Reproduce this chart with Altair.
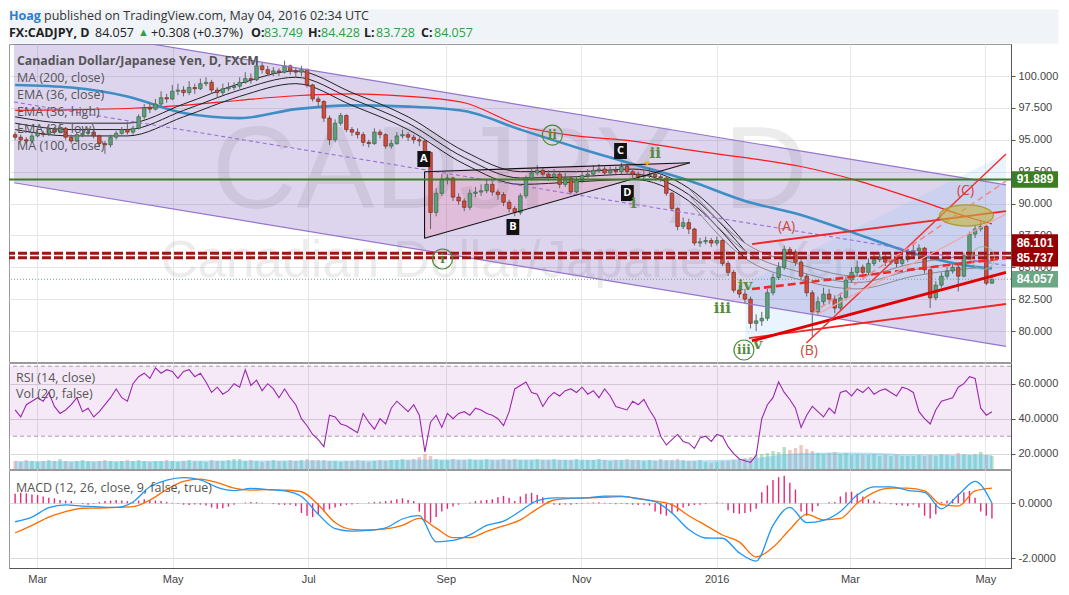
import altair as alt
import pandas as pd

# ---------------- data ----------------
FIRST_OPEN = 95.4
closes = [
    95.2, 95.0, 94.9, 95.3, 95.5, 95.4, 95.8, 95.6, 95.9, 95.2,
    94.9, 95.4, 95.5, 95.6, 95.3, 94.7, 94.6, 95.2, 95.5, 95.8,
    95.6, 95.9, 96.8, 97.5, 97.4, 97.8, 98.3, 98.2, 98.8, 98.9,
    98.7, 99.1, 99.0, 99.4, 99.5, 98.9, 98.7, 99.0, 99.1, 99.2,
    99.5, 99.8, 99.7, 100.8, 100.5, 100.2, 100.4, 100.3, 100.8, 100.4,
    100.3, 100.5, 99.3, 98.2, 98.0, 96.7, 95.0, 96.3, 96.9, 95.8,
    95.6, 95.4, 94.8, 94.7, 95.6, 95.4, 94.5, 94.7, 95.3, 95.4,
    95.2, 95.0, 94.9, 94.0, 89.3, 90.8, 91.9, 92.0, 90.5, 90.2,
    89.7, 90.8, 90.9, 91.0, 91.5, 90.9, 90.7, 90.1, 89.6, 89.3,
    90.6, 92.0, 92.4, 92.6, 92.3, 92.1, 92.3, 91.5, 92.0, 90.9,
    91.8, 92.2, 92.3, 92.6, 92.7, 92.4, 92.6, 92.5, 92.9, 92.5,
    92.3, 92.1, 92.2, 92.3, 92.1, 92.0, 90.8, 89.6, 88.2, 88.5,
    88.0, 86.9, 87.0, 87.1, 86.9, 87.1, 85.3, 84.6, 83.2, 82.9,
    82.5, 80.6, 80.8, 81.0, 83.0, 84.2, 85.0, 86.4, 86.2, 85.4,
    84.3, 83.0, 81.5, 82.3, 82.9, 82.5, 81.8, 82.6, 84.0, 84.6,
    85.0, 84.6, 85.3, 85.6, 85.8, 85.4, 85.6, 85.3, 85.6, 85.9,
    86.3, 86.5, 84.8, 82.6, 83.6, 84.3, 84.7, 85.0, 84.3, 85.9,
    87.6, 88.0, 88.2, 83.75, 84.057,
]
highs = [
    95.6, 95.4, 95.2, 95.5, 95.8, 95.7, 96.2, 96.0, 96.3, 96.0,
    95.4, 95.6, 95.8, 95.9, 95.8, 95.4, 94.9, 95.4, 95.7, 96.0,
    96.4, 96.1, 97.0, 97.8, 97.9, 98.2, 98.8, 98.6, 99.3, 99.4,
    99.2, 99.6, 99.4, 99.8, 99.9, 99.7, 99.1, 99.4, 99.5, 99.5,
    99.9, 100.3, 100.2, 101.2, 101.1, 100.8, 100.7, 100.6, 101.2, 100.9,
    100.7, 100.8, 100.6, 99.4, 98.4, 98.1, 96.9, 96.6, 97.1, 97.0,
    96.0, 95.9, 95.6, 95.0, 95.9, 95.8, 95.5, 95.0, 95.6, 95.8,
    95.6, 95.4, 95.2, 95.0, 94.1, 91.2, 92.3, 92.3, 92.1, 90.8,
    90.4, 91.1, 91.3, 91.5, 91.9, 91.7, 91.1, 90.9, 90.3, 89.8,
    90.8, 92.2, 92.7, 93.0, 92.8, 92.6, 92.7, 92.5, 92.4, 92.1,
    92.1, 92.5, 92.7, 93.0, 93.1, 92.9, 92.9, 92.9, 93.2, 93.1,
    92.7, 92.5, 92.6, 92.8, 92.5, 92.3, 92.1, 90.9, 89.7, 88.9,
    88.8, 88.1, 87.3, 87.4, 87.3, 87.4, 87.2, 85.5, 84.8, 83.6,
    83.3, 82.7, 81.3, 81.5, 83.3, 84.5, 85.4, 86.7, 86.6, 86.4,
    85.6, 84.5, 83.2, 82.7, 83.4, 83.3, 82.8, 83.0, 84.3, 85.0,
    85.5, 85.2, 85.7, 86.0, 86.2, 86.0, 86.0, 85.8, 86.0, 86.3,
    86.9, 86.8, 86.6, 84.9, 83.9, 84.6, 85.0, 85.3, 85.2, 86.1,
    87.8, 88.3, 88.6, 88.3, 84.428,
]
lows = [
    95.0, 94.8, 94.7, 94.8, 95.2, 95.2, 95.3, 95.4, 95.5, 95.0,
    94.7, 94.8, 95.2, 95.3, 95.1, 94.5, 93.9, 94.4, 95.0, 95.4,
    95.4, 95.4, 95.8, 96.6, 97.1, 97.3, 97.6, 97.9, 98.1, 98.5,
    98.4, 98.5, 98.6, 98.9, 99.2, 98.6, 98.3, 98.5, 98.8, 98.9,
    99.0, 99.4, 99.4, 99.6, 100.2, 100.0, 100.0, 100.0, 100.2, 100.1,
    99.9, 100.0, 99.1, 98.0, 97.6, 96.4, 94.6, 94.8, 96.1, 95.6,
    95.3, 95.1, 94.5, 94.4, 94.6, 95.1, 94.3, 94.3, 94.6, 95.1,
    94.9, 94.7, 94.5, 93.6, 88.0, 89.0, 90.6, 91.5, 90.2, 89.9,
    89.4, 89.5, 90.5, 90.6, 90.8, 90.6, 90.3, 89.8, 89.3, 89.0,
    89.1, 90.4, 91.8, 92.2, 92.0, 91.8, 91.9, 91.2, 91.3, 90.7,
    90.8, 91.6, 92.0, 92.1, 92.4, 92.2, 92.2, 92.3, 92.3, 92.3,
    92.0, 91.9, 91.9, 92.0, 91.8, 91.7, 90.6, 89.4, 87.9, 88.0,
    87.6, 86.7, 86.6, 86.8, 86.6, 86.7, 85.1, 84.3, 83.0, 82.6,
    82.2, 80.2, 80.0, 80.4, 80.8, 82.8, 84.0, 84.8, 85.9, 85.1,
    84.0, 82.7, 79.5, 81.2, 82.0, 82.1, 81.4, 81.6, 82.4, 83.8,
    84.3, 84.2, 84.4, 85.1, 85.4, 85.1, 85.2, 85.0, 85.1, 85.4,
    85.7, 86.0, 84.5, 81.8, 82.4, 83.4, 84.1, 84.5, 83.1, 84.2,
    85.7, 87.3, 87.8, 83.6, 83.728,
]
volumes = [
    8, 7, 9, 8, 7, 8, 9, 8, 10, 8, 7, 8, 9, 8, 7, 8, 9, 8, 7, 8,
    9, 8, 9, 8, 7, 8, 8, 9, 8, 7, 8, 9, 8, 8, 7, 9, 8, 8, 9, 10,
    10, 8, 9, 8, 7, 8, 9, 8, 8, 9, 8, 9, 10, 9, 9, 9, 8, 8, 7, 8,
    8, 9, 8, 7, 8, 9, 8, 9, 9, 10, 9, 10, 12, 15, 13, 10, 9, 9, 10, 9,
    9, 10, 9, 9, 10, 9, 9, 10, 9, 10, 9, 9, 9, 10, 9, 9, 10, 9, 9, 9,
    10, 9, 9, 9, 10, 9, 8, 9, 9, 10, 9, 9, 8, 9, 8, 10, 9, 9, 10, 9,
    8, 8, 9, 7, 6, 7, 8, 8, 9, 10, 11, 12, 14, 15, 16, 18, 17, 22, 19, 21,
    24, 20, 18, 16, 15, 16, 17, 15, 16, 14, 15, 14, 14, 15, 13, 14, 13, 14, 13, 13,
    13, 14, 13, 14, 13, 15, 14, 13, 16, 15, 14, 15, 17, 14, 13,
]
rsi_vals = [
    45, 41, 48, 50, 52, 50, 55, 47, 43, 45, 48, 52, 44, 46,
    41,
    44, 48, 52, 57, 52, 50,
    60, 64, 66, 63, 69, 66,
    68, 67, 63, 67, 68, 64, 66, 61,
    55, 58, 54, 56, 60, 58,
    68, 59, 62, 56, 60, 57,
    52, 57, 52, 48,
    40, 36, 31, 28, 24,
    42, 41, 37, 36, 34, 32,
    43, 38, 34, 40, 37, 46,
    50, 47, 44, 48, 42,
    21,
    38, 42, 35, 43, 40, 43, 44, 42, 46, 45, 43, 42, 40, 36,
    44, 57, 59, 61, 55, 54,
    47, 52, 55, 53, 56, 57,
    55, 58, 54, 56, 52, 57, 53, 47,
    46, 45, 50, 48, 51, 45, 40, 30,
    25, 28, 31, 27, 26, 23,
    29, 30, 27, 31, 30,
    24, 20, 17, 16, 15,
    19, 40, 48, 52,
    61, 55, 51, 46,
    35, 42, 47, 44, 41, 46, 43, 55,
    56, 53, 57, 55, 58, 54, 56, 57, 55, 53, 58, 57, 55,
    44, 40, 37,
    45, 50, 51, 52, 58, 60,
    64, 63, 46, 42, 44,
]
macd_hist = [
    0.35, 0.38, 0.36, 0.32, 0.3, 0.25,
    0.2, 0.18, 0.12, 0.1, 0.08,
    0.0, -0.03, -0.05, -0.02,
    0.05, 0.08, 0.1, 0.12, 0.1, 0.08, 0.05, 0.1,
    0.15, 0.12, 0.1, 0.08, 0.05, 0.02,
    -0.02, -0.05, -0.06, -0.04, -0.05, -0.08,
    -0.15, -0.2, -0.18, -0.12, -0.05, 0.0,
    0.03, 0.05, 0.04, 0.02, 0.0,
    -0.03, -0.05, -0.06, -0.05, -0.1,
    -0.35, -0.45, -0.5, -0.4, -0.3,
    -0.22, -0.15, -0.1, -0.06,
    -0.04, -0.02, 0.0, 0.03,
    0.05, 0.06, 0.08, 0.1,
    0.15, 0.18, 0.12, 0.08,
    -0.3, -0.65, -0.7, -0.5, -0.3,
    -0.2, -0.12, -0.05, 0.0, 0.03,
    0.08, 0.1, 0.12, 0.15,
    0.22, 0.27, 0.2, 0.08,
    0.25, 0.35, 0.38, 0.3, 0.22,
    0.08, -0.05, -0.06, -0.04, -0.05, -0.03, -0.02,
    0.02, 0.03, 0.04, 0.02, -0.02, -0.03, -0.02, -0.03,
    -0.05, -0.06, -0.05, -0.08,
    -0.3, -0.4, -0.45, -0.35, -0.3,
    -0.15, -0.1, -0.06, -0.05, -0.03,
    0.0, 0.03, 0.02,
    -0.25, -0.35, -0.38, -0.35, -0.3, -0.2,
    0.4, 0.65, 0.85, 0.95, 1.0, 0.75, 0.5,
    -0.3, -0.45,
    -0.3, -0.1, 0.0, 0.04, 0.05,
    0.25, 0.4, 0.42, 0.35, 0.25,
    0.15, 0.1, 0.05, 0.02,
    -0.03, -0.06, -0.08, -0.1, -0.05, -0.15,
    -0.45, -0.55, -0.4,
    0.05, 0.1, 0.15,
    0.35, 0.4, 0.45, 0.2,
    -0.3, -0.45, -0.55,
]
# moving averages, sampled at candle indices MA_IDX
MA_IDX = [0, 10, 20, 30, 40, 50, 60, 70, 80, 90, 100, 110, 120, 130, 140, 150, 160, 170, 174]
ma200 = [97.3, 97.35, 97.45, 97.7, 98.1, 98.45, 98.6, 98.4, 97.9, 96.1, 95.3, 94.9, 94.2, 93.6, 92.9, 91.8, 90.4, 88.9, 88.4]
ma100 = [99.3, 99.1, 98.4, 97.1, 96.7, 97.4, 97.7, 97.6, 97.25, 95.8, 94.4, 93.1, 91.8, 90.2, 89.1, 87.6, 86.1, 85.1, 84.9]
ema_close = [96.3, 95.8, 95.8, 97.3, 98.9, 99.9, 98.2, 96.3, 93.6, 92.0, 92.1, 92.3, 90.7, 86.3, 84.6, 83.8, 84.8, 85.4, 85.5]
ema_high = [96.8, 96.3, 96.3, 97.8, 99.4, 100.4, 98.7, 96.8, 94.1, 92.5, 92.5, 92.7, 91.2, 86.9, 85.2, 84.3, 85.3, 85.9, 86.0]
ema_low = [95.8, 95.3, 95.3, 96.8, 98.4, 99.4, 97.7, 95.8, 93.1, 91.5, 91.7, 91.9, 90.2, 85.7, 84.0, 83.3, 84.3, 84.9, 85.0]
EMA_DARK_UNTIL = 13  # position in MA_IDX after which the EMA lines are drawn pale
vol_ma = [8, 8, 8, 8.2, 8.4, 8.6, 8.4, 9.2, 9.6, 9.4, 9.2, 9.0, 8.6, 10, 16, 16.5, 14.5, 14, 14]
# MACD lines, sampled every 3rd candle
MACD_STEP = 3
macd_line = [-0.67, -0.5, -0.16, -0.06, -0.1, -0.13, -0.15, 0.05, 0.6, 0.84, 0.93, 0.85, 0.58, 0.46, 0.54,
             0.5, 0.45, 0.25, -0.4, -0.92, -1.01, -0.98, -0.89, -0.57, -0.45, -1.4, -1.35, -1.15, -0.8,
             -0.65, -0.28, 0.1, 0.2, 0.19, 0.2, 0.26, 0.26, 0.16, 0.06, -0.35, -0.95, -1.26, -1.27, -1.8,
             -2.1, -0.8, -0.15, -0.7, -0.62, -0.3, 0.3, 0.6, 0.6, 0.47, 0.4, -0.2, 0.3, 0.8, 0.0]
macd_signal = [-1.07, -0.8, -0.5, -0.3, -0.18, -0.17, -0.15, -0.12, 0.12, 0.5, 0.8, 0.88, 0.75, 0.55, 0.48,
               0.5, 0.48, 0.42, -0.05, -0.7, -0.95, -0.97, -0.93, -0.8, -0.55, -0.9, -1.25, -1.25, -1.02,
               -0.82, -0.6, -0.2, 0.12, 0.18, 0.2, 0.22, 0.24, 0.18, 0.08, -0.05, -0.45, -0.8, -1.15, -1.4,
               -1.95, -1.6, -0.95, -0.4, -0.6, -0.55, 0.0, 0.4, 0.55, 0.55, 0.45, -0.05, -0.1, 0.45, 0.55]

PRICE_TICKS = [80, 82.5, 85, 87.5, 90, 92.5, 95, 97.5, 100]
RSI_TICKS = [20, 40, 60]
MACD_TICKS = [-2, 0]
MONTH_TICKS = ["2015-03-01", "2015-05-01", "2015-07-01", "2015-09-01", "2015-11-01",
               "2016-01-01", "2016-03-01", "2016-05-01"]

# drawings: anchors in date / price
CH_T = ["2015-02-18T12:00", "2016-05-10T08:00"]
CH_UP = [104.29, 91.46]
CH_MID = [97.96, 85.13]
CH_LO = [91.63, 78.80]
TRI_T = ["2015-08-22T10:00", "2015-12-19T22:00"]
TRI_TOP = [92.49, 93.2]
TRI_BOT = [87.27, 93.2]
WEDGE_T = ["2016-01-14", "2016-05-10T08:00"]
WEDGE_TOP = [83.8, 93.9]
WEDGE_BOT = [79.0, 84.6]
RED_THIN = dict(t=["2016-01-16T22:00", "2016-01-15T14:00"], p=[86.82, 79.45],
                t2=["2016-05-10T08:00", "2016-05-10T08:00"], p2=[89.41, 82.12])
RED_THICK = dict(t=["2016-01-16T22:00"], p=[79.22], t2=["2016-05-10T08:00"], p2=[84.6])
RED_MEDIAN = dict(t=["2016-01-16T22:00"], p=[83.29], t2=["2016-05-10T08:00"], p2=[85.73])
RED_STEEP = dict(t=["2016-02-10T10:00"], p=[79.06], t2=["2016-05-10T08:00"], p2=[93.88])
PINK_DASH = dict(t=["2016-02-13T05:00"], p=[81.41], t2=["2016-05-10T08:00"], p2=[91.76])
PINK_SOLID = dict(t=["2016-02-15T10:00"], p=[81.33], t2=["2016-05-10T08:00"], p2=[89.18])
H_GREEN = 91.889
H_RED = [86.101, 85.737]
LAST = 84.057
ELLIPSE = dict(t=["2016-04-22T12:00"], p=[89.06])
BOXES = dict(lbl=["A", "B", "C", "D"], t=["2015-08-22T02:00", "2015-10-01T05:00", "2015-11-18T17:00", "2015-11-21T19:00"],
             p=[93.49, 88.16, 94.12, 90.82])
CIRCLED = dict(lbl=["ii", "i", "iii"], t=["2015-10-19", "2015-08-30T12:00", "2016-01-13T07:00"], p=[95.37, 85.65, 78.51])
WAVES = dict(lbl=["ii", "i", "iii", "iv", "v"],
             t=["2015-12-04T07:00", "2015-11-24T14:00", "2016-01-03T14:00", "2016-01-13T19:00", "2016-01-19T14:00"],
             p=[93.96, 90.06, 81.8, 83.6, 78.96])
ABC = dict(lbl=["(A)", "(B)", "(C)"], t=["2016-02-01T12:00", "2016-02-11T17:00", "2016-04-22T02:00"], p=[88.16, 78.43, 90.98])
TAGS = dict(lbl=["91.889", "86.101", "85.737", "84.057"], pos=[91.889, 86.93, 85.70, 84.057],
            col=["#3b7d23", "#960000", "#960000", "#6aa784"])

# ---------------- helpers ----------------
F = "Open Sans"
AXF = "Liberation Sans"
W = 1002
H_HEAD, H_MAIN, H_RSI, H_MACD = 34, 318, 106, 98


def ms(s):
    return int(pd.Timestamp(s).value // 1_000_000)


T0, T1 = "2015-02-19", "2016-05-04"
t_c = [int(v.value // 1_000_000) for v in pd.date_range(T0, T1, periods=len(closes))]
N = len(t_c)
opens = [FIRST_OPEN] + closes[:-1]
cdf = pd.DataFrame({"t": t_c, "o": opens, "c": closes, "h": highs[:N], "l": lows[:N]})
vdf = pd.DataFrame({"t": t_c[:len(volumes)], "v": volumes[:N], "o": opens[:len(volumes)], "c": closes[:len(volumes)]})
rdf = pd.DataFrame({"t": t_c[:len(rsi_vals)], "r": rsi_vals[:N]})
hdf = pd.DataFrame({"t": t_c[:len(macd_hist)], "h": macd_hist[:N]})
ma_t = [t_c[min(i, N - 1)] for i in MA_IDX]
madf = pd.DataFrame({"t": ma_t, "ma200": ma200, "ma100": ma100, "ec": ema_close,
                     "eh": ema_high, "el": ema_low, "vma": vol_ma})
ema_dark = madf.iloc[:EMA_DARK_UNTIL + 1]
ema_pale = madf.iloc[EMA_DARK_UNTIL - 1:]
m_t = t_c[::MACD_STEP][:len(macd_line)]
mdf = pd.DataFrame({"t": m_t, "m": macd_line[:len(m_t)], "s": macd_signal[:len(m_t)]})

dummy = pd.DataFrame({"k": [0]})
month_ms = [ms(s) for s in MONTH_TICKS]
xscale = alt.Scale(type="utc", domain=[ms("2015-02-18T12:00"), ms("2016-05-10T08:00")], nice=False)
GRID = "#e6e6e6"
ax_x_hidden = alt.Axis(values=month_ms, labels=False, ticks=False, domain=False, grid=True,
                       gridColor=GRID, title=None)
ax_x_bottom = alt.Axis(values=month_ms,
                       labelExpr="utcmonth(datum.value)==0 ? utcFormat(datum.value,'%Y') : utcFormat(datum.value,'%b')",
                       ticks=False, domain=True, domainColor="#555", grid=True, gridColor=GRID,
                       labelFont=AXF, labelFontSize=11, labelColor="#444", labelPadding=5,
                       labelOverlap=False, labelFlush=False, title=None)


def X(field, axis=ax_x_hidden):
    return alt.X(field, type="temporal", scale=xscale, axis=axis, title=None)


y_main = alt.Scale(domain=[77.57, 102.51], nice=False, zero=False)
ax_y_main = alt.Axis(orient="right", values=PRICE_TICKS, format=".3f", grid=True, gridColor=GRID,
                     tickSize=4, tickColor="#555", domainColor="#555", labelFont=AXF, labelFontSize=11,
                     labelColor="#444", labelPadding=3, title=None)


def YP(field):
    return alt.Y(field, type="quantitative", scale=y_main, axis=ax_y_main, title=None)


def segs(d):
    return pd.DataFrame({"t": [ms(s) for s in d["t"]], "p": d["p"],
                         "t2": [ms(s) for s in d["t2"]], "p2": d["p2"]})


def seg_chart(d, **kw):
    return alt.Chart(segs(d)).mark_rule(clip=True, **kw).encode(
        x=X("t"), y=YP("p"), x2=alt.X2("t2"), y2=alt.Y2("p2"))


def hline(v, **kw):
    return alt.Chart(pd.DataFrame({"p": [v]})).mark_rule(clip=True, **kw).encode(y=YP("p"))


def pts(d):
    return pd.DataFrame({"lbl": d["lbl"], "t": [ms(s) for s in d["t"]], "p": d["p"]})


def vtext(txt, x, y, size=12.5, weight="normal", color="#555", font=F, **kw):
    return alt.Chart(dummy).mark_text(text=txt, align="left", baseline="middle", font=font,
                                      fontSize=size, fontWeight=weight, color=color, **kw).encode(
        x=alt.value(x), y=alt.value(y))


UP_COND = "datum.c >= datum.o"

# ---------------- header ----------------
GREEN_TXT = "#2ea043"
header = alt.layer(
    vtext("Hoag", 0, 7, 12.5, "bold", "#2d7fc6"),
    vtext("published on TradingView.com, May 04, 2016 02:34 UTC", 35, 7, 12.5, "normal", "#333"),
    vtext("FX:CADJPY, D", 0, 24, 12.5, "bold", "#222"),
    vtext("84.057", 86, 24, 12.5, "normal", "#222"),
    vtext("\u25b2", 129, 24, 11, "normal", GREEN_TXT),
    vtext("+0.308 (+0.37%)", 142, 24, 12.5, "normal", "#222"),
    vtext("O:", 242, 24, 12.5, "bold", "#222"),
    vtext("83.749", 255, 24, 12.5, "normal", GREEN_TXT),
    vtext("H:", 299, 24, 12.5, "bold", "#222"),
    vtext("84.428", 312, 24, 12.5, "normal", GREEN_TXT),
    vtext("L:", 355, 24, 12.5, "bold", "#222"),
    vtext("83.728", 367, 24, 12.5, "normal", GREEN_TXT),
    vtext("C:", 412, 24, 12.5, "bold", "#222"),
    vtext("84.057", 425, 24, 12.5, "normal", GREEN_TXT),
).properties(width=1049, height=H_HEAD,
             view=alt.ViewBackground(fill="#f0f3f7", stroke="transparent"))

# ---------------- main price pane ----------------
chdf = pd.DataFrame({"t": [ms(s) for s in CH_T], "up": CH_UP, "lo": CH_LO, "mid": CH_MID})
channel_fill = alt.Chart(chdf).mark_area(color="#6c46b5", opacity=0.23, clip=True).encode(
    x=X("t"), y=YP("up"), y2=alt.Y2("lo"))
wedge = alt.Chart(pd.DataFrame({"t": [ms(s) for s in WEDGE_T], "top": WEDGE_TOP, "bot": WEDGE_BOT})).mark_area(
    color="#90caf9", opacity=0.2, clip=True).encode(x=X("t"), y=YP("top"), y2=alt.Y2("bot"))
tri_fill = alt.Chart(pd.DataFrame({"t": [ms(s) for s in TRI_T], "top": TRI_TOP, "bot": TRI_BOT})).mark_area(
    color="#ec6f9a", opacity=0.22, clip=True).encode(x=X("t"), y=YP("top"), y2=alt.Y2("bot"))

wm1 = alt.Chart(dummy).mark_text(text="CADJPY, D", align="center", baseline="alphabetic",
                                 font="Liberation Sans Narrow, Arial Narrow, sans-serif", fontSize=117,
                                 color="#6a6a6a", opacity=0.12).encode(x=alt.value(501), y=alt.value(164))
wm2 = alt.Chart(dummy).mark_text(text="Canadian Dollar/Japanese Yen", align="center", baseline="alphabetic",
                                 font="Liberation Sans, Arial, sans-serif", fontSize=51,
                                 color="#6a6a6a", opacity=0.12).encode(x=alt.value(502), y=alt.value(233))

ma_base = alt.Chart(madf)
l_ma200 = ma_base.mark_line(color="#ff1a1a", strokeWidth=1.2, interpolate="monotone", clip=True).encode(
    x=X("t"), y=YP("ma200"))
l_ma100 = ma_base.mark_line(color="#3d8ec4", strokeWidth=2.6, interpolate="monotone", clip=True).encode(
    x=X("t"), y=YP("ma100"))
ema_lines = []
for src, col in ((ema_dark, "#222"), (ema_pale, "#8a8a8a")):
    for fld in ("eh", "ec", "el"):
        ema_lines.append(alt.Chart(src).mark_line(color=col, strokeWidth=1, interpolate="monotone", clip=True).encode(
            x=X("t"), y=YP(fld)))

cbase = alt.Chart(cdf)
wicks = cbase.mark_rule(color="#666", strokeWidth=1, clip=True).encode(x=X("t"), y=YP("l"), y2=alt.Y2("h"))
bodies = cbase.mark_bar(size=3.6, strokeWidth=0.6, clip=True).encode(
    x=X("t"), y=YP("o"), y2=alt.Y2("c"),
    color=alt.condition(UP_COND, alt.value("#5e9e78"), alt.value("#cc4e3a")),
    stroke=alt.condition(UP_COND, alt.value("#2f5e40"), alt.value("#6b2219")))

ch_edges = alt.Chart(pd.DataFrame({"t": [ms(CH_T[0])] * 2, "p": [CH_UP[0], CH_LO[0]],
                                   "t2": [ms(CH_T[1])] * 2, "p2": [CH_UP[1], CH_LO[1]]})).mark_rule(
    color="#9575cd", strokeWidth=1.2, clip=True).encode(x=X("t"), y=YP("p"), x2=alt.X2("t2"), y2=alt.Y2("p2"))
ch_mid = alt.Chart(pd.DataFrame({"t": [ms(CH_T[0])], "p": [CH_MID[0]], "t2": [ms(CH_T[1])], "p2": [CH_MID[1]]})).mark_rule(
    color="#9c6fd6", strokeWidth=1.1, strokeDash=[4, 3], clip=True).encode(
    x=X("t"), y=YP("p"), x2=alt.X2("t2"), y2=alt.Y2("p2"))
tri_edges = alt.Chart(pd.DataFrame({
    "t": [ms(TRI_T[0]), ms(TRI_T[0]), ms(TRI_T[0])],
    "p": [TRI_TOP[0], TRI_BOT[0], TRI_TOP[0]],
    "t2": [ms(TRI_T[1]), ms(TRI_T[1]), ms(TRI_T[0])],
    "p2": [TRI_TOP[1], TRI_BOT[1], TRI_BOT[0]]})).mark_rule(color="#111", strokeWidth=1.1, clip=True).encode(
    x=X("t"), y=YP("p"), x2=alt.X2("t2"), y2=alt.Y2("p2"))

g_line = hline(H_GREEN, color="#3b7d23", strokeWidth=2)
r_lines = [hline(v, color="#a01515", strokeWidth=3, strokeDash=[9, 3]) for v in H_RED]
last_line = hline(LAST, color="#6aa784", strokeWidth=1, strokeDash=[1, 2])

red_thin = seg_chart(RED_THIN, color="#f02626", strokeWidth=1.8)
red_thick = seg_chart(RED_THICK, color="#e00000", strokeWidth=2.8)
red_med = seg_chart(RED_MEDIAN, color="#f02a2a", strokeWidth=2.6, strokeDash=[8, 4])
red_steep = seg_chart(RED_STEEP, color="#f03434", strokeWidth=1.5)
pink_dash = seg_chart(PINK_DASH, color="#ee8a8a", strokeWidth=1.6, strokeDash=[6, 4])
pink_solid = seg_chart(PINK_SOLID, color="#f4a6a6", strokeWidth=1.3)

ELL_SHAPE = "M -1 0 A 1 0.39 0 1 1 1 0 A 1 0.39 0 1 1 -1 0 Z"
ell = alt.Chart(pd.DataFrame({"t": [ms(s) for s in ELLIPSE["t"]], "p": ELLIPSE["p"]})).mark_point(
    shape=ELL_SHAPE, size=54 ** 2, filled=True, fill="#c4b23e", fillOpacity=0.62,
    stroke="#a99a22", strokeWidth=1.3, strokeOpacity=0.9, opacity=1).encode(x=X("t"), y=YP("p"))

BOX_SHAPE = "M -0.8 -1 L 0.8 -1 L 0.8 1 L -0.8 1 Z"
box_df = pts(BOXES)
boxes = alt.Chart(box_df).mark_point(shape=BOX_SHAPE, size=16 ** 2, filled=True, color="#111", opacity=1).encode(
    x=X("t"), y=YP("p"))
box_txt = alt.Chart(box_df).mark_text(color="white", font=F, fontSize=11, fontWeight="bold").encode(
    x=X("t"), y=YP("p"), text="lbl:N")
circ_df = pts(CIRCLED)
circles = alt.Chart(circ_df).mark_point(shape="circle", size=400, filled=False, color="#4f8a3a",
                                        strokeWidth=1.2, opacity=1).encode(x=X("t"), y=YP("p"))
circ_txt = alt.Chart(circ_df).mark_text(color="#4f8a3a", font="DejaVu Serif", fontSize=12, fontWeight="bold").encode(
    x=X("t"), y=YP("p"), text="lbl:N")
wave_txt = alt.Chart(pts(WAVES)).mark_text(color="#5a8a3c", font="DejaVu Serif", fontSize=15, fontWeight="bold").encode(
    x=X("t"), y=YP("p"), text="lbl:N")
abc_txt = alt.Chart(pts(ABC)).mark_text(color="#d0443a", font=F, fontSize=14).encode(
    x=X("t"), y=YP("p"), text="lbl:N")
faint_circle = alt.Chart(pd.DataFrame({"t": [ms("2016-04-30")], "p": [85.73]})).mark_point(
    shape="circle", size=520, filled=False, color="#8fbf8f", strokeWidth=1.2, opacity=0.7).encode(x=X("t"), y=YP("p"))
tri_mark = alt.Chart(pd.DataFrame({"t": [ms("2015-11-30T17:00")], "p": [93.1]})).mark_point(
    shape="triangle-down", size=30, filled=True, color="#f0b400", opacity=1).encode(x=X("t"), y=YP("p"))

legend_main = [
    vtext("Canadian Dollar/Japanese Yen, D, FXCM", 8, 17, 12.3, "bold", "#555"),
    vtext("MA (200, close)", 8, 34, 12.5, "normal", "#555"),
    vtext("EMA (36, close)", 8, 51, 12.5, "normal", "#555"),
    vtext("EMA (36, high)", 8, 68, 12.5, "normal", "#555"),
    vtext("EMA (36, low)", 8, 85, 12.5, "normal", "#555"),
    vtext("MA (100, close)", 8, 102, 12.5, "normal", "#555"),
]

TAG_SHAPE = "M -1 -0.36 L 1 -0.36 L 1 0.36 L -1 0.36 Z"
tag_df = pd.DataFrame(TAGS)
tags = alt.Chart(tag_df).mark_point(shape=TAG_SHAPE, size=46 ** 2, filled=True, opacity=1, clip=False).encode(
    x=alt.value(1026), y=YP("pos"), color=alt.Color("col:N", scale=None))
tag_txt = alt.Chart(tag_df).mark_text(color="white", font=AXF, fontSize=12, fontWeight="bold", clip=False).encode(
    x=alt.value(1026), y=YP("pos"), text="lbl:N")

main = alt.layer(
    channel_fill, wedge, tri_fill, wm1, wm2,
    l_ma200, l_ma100, *ema_lines,
    wicks, bodies,
    ch_edges, ch_mid, tri_edges,
    g_line, *r_lines, last_line,
    red_thin, red_thick, red_med, red_steep, pink_dash, pink_solid,
    ell, faint_circle, tri_mark, boxes, box_txt, circles, circ_txt, wave_txt, abc_txt,
    *legend_main, tags, tag_txt,
).properties(width=W, height=H_MAIN)

# ---------------- RSI + volume pane ----------------
y_rsi = alt.Scale(domain=[11.26, 71.83], nice=False, zero=False)
ax_rsi = alt.Axis(orient="right", values=RSI_TICKS, format=".4f", grid=True, gridColor="#dadada",
                  tickSize=4, tickColor="#555", domainColor="#555", labelFont=AXF, labelFontSize=11,
                  labelColor="#444", labelPadding=3, title=None)
y_vol = alt.Scale(domain=[0, 106], nice=False, zero=True)

band = alt.Chart(dummy).mark_rect(color="#9c27b0", opacity=0.1).encode(
    y=alt.Y(datum=70, type="quantitative", scale=y_rsi, axis=ax_rsi), y2=alt.Y2(datum=30))
band_lines = alt.Chart(pd.DataFrame({"r": [70, 30]})).mark_rule(color="#a99aab", strokeDash=[4, 3], strokeWidth=1).encode(
    y=alt.Y("r:Q", scale=y_rsi, axis=None))
vol_bars = alt.Chart(vdf).mark_bar(size=3.4, opacity=0.55).encode(
    x=X("t"), y=alt.Y("v:Q", scale=y_vol, axis=None), y2=alt.Y2(datum=0),
    color=alt.condition(UP_COND, alt.value("#7cc496"), alt.value("#e49a90")))
vol_area = alt.Chart(madf).mark_area(color="#5bbfe8", opacity=0.45, interpolate="monotone").encode(
    x=X("t"), y=alt.Y("vma:Q", scale=y_vol, axis=None))
rsi_line = alt.Chart(rdf).mark_line(color="#9c27b0", strokeWidth=1.1).encode(
    x=X("t"), y=alt.Y("r:Q", scale=y_rsi, axis=None))
rsi_leg = [vtext("RSI (14, close)", 7, 15, 12.5), vtext("Vol (20, false)", 7, 31, 12.5)]
rsi = alt.layer(band, band_lines, vol_bars, vol_area, rsi_line, *rsi_leg).resolve_scale(
    y="independent").properties(width=W, height=H_RSI)

# ---------------- MACD pane ----------------
y_macd = alt.Scale(domain=[-2.35, 1.21], nice=False, zero=False)
ax_macd = alt.Axis(orient="right", values=MACD_TICKS,
                   labelExpr="replace(format(datum.value, '.4f'), '\u2212', '-')",
                   grid=True, gridColor="#dadada", tickSize=4, tickColor="#555", domainColor="#555",
                   labelFont=AXF, labelFontSize=11, labelColor="#444", labelPadding=3, title=None)


def YM(field):
    return alt.Y(field, type="quantitative", scale=y_macd, axis=ax_macd, title=None)


hist = alt.Chart(hdf).mark_bar(size=1.4, color="#e2297a").encode(
    x=X("t", ax_x_bottom), y=YM("h"), y2=alt.Y2(datum=0))
m_line = alt.Chart(mdf).mark_line(color="#2196f3", strokeWidth=1.3, interpolate="monotone").encode(
    x=X("t", ax_x_bottom), y=YM("m"))
s_line = alt.Chart(mdf).mark_line(color="#ff6d00", strokeWidth=1.3, interpolate="monotone").encode(
    x=X("t", ax_x_bottom), y=YM("s"))
macd_leg = vtext("MACD (12, 26, close, 9, false, true)", 7, 18, 12.5)
macd = alt.layer(hist, s_line, m_line, macd_leg).properties(width=W, height=H_MACD)

chart = alt.vconcat(header, main, rsi, macd, spacing=1, bounds="flush", padding=0,
                    background="white").configure_view(stroke="#9a9a9a", strokeWidth=1)

chart.save("out.html", embed_options={"renderer": "svg", "actions": False})
